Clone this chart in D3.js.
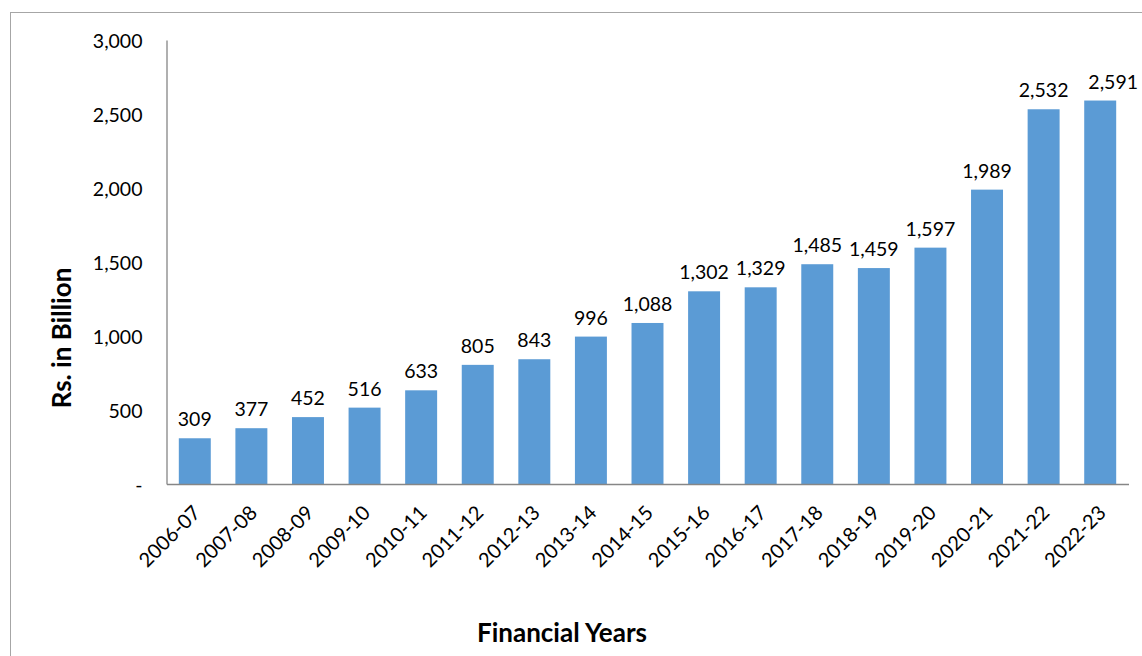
<!DOCTYPE html>
<html><head><meta charset="utf-8">
<script src="https://cdn.jsdelivr.net/npm/d3@7"></script>
<style>body{margin:0;background:#fff;} text{font-family:Lato, "Open Sans", sans-serif;}</style>
</head><body>
<svg id="c" width="1142" height="656"></svg>
<script>
const categories = ["2006-07","2007-08","2008-09","2009-10","2010-11","2011-12","2012-13","2013-14","2014-15","2015-16","2016-17","2017-18","2018-19","2019-20","2020-21","2021-22","2022-23"];
const values = [309,377,452,516,633,805,843,996,1088,1302,1329,1485,1459,1597,1989,2532,2591];
const yTicks = [0,500,1000,1500,2000,2500,3000];
const yTickLabels = ["-","500","1,000","1,500","2,000","2,500","3,000"];

const svg = d3.select("#c");
svg.append("rect").attr("x",10.5).attr("y",12.5).attr("width",1300).attr("height",800)
  .attr("fill","none").attr("stroke","#a6a6a6").attr("stroke-width",1);

const x = d3.scaleBand().domain(categories).range([166.5,1128.5]).paddingInner(0.435).paddingOuter(0.2175);
const y = d3.scaleLinear().domain([0,3000]).range([484,40]);

svg.selectAll("rect.bar").data(values).enter().append("rect").attr("class","bar")
  .attr("x",(d,i)=>x(categories[i])).attr("width",x.bandwidth())
  .attr("y",d=>y(d)).attr("height",d=>y(0)-y(d)).attr("fill","#5b9bd5");

const fmt = d3.format(",");
svg.selectAll("text.val").data(values).enter().append("text").attr("class","val")
  .attr("x",(d,i)=>x(categories[i])+x.bandwidth()/2).attr("y",d=>y(d)-12)
  .attr("dx",(d,i)=> i===values.length-1 ? 13 : 0)
  .attr("text-anchor","middle").attr("font-size",19.5).attr("fill","#000").text(d=>fmt(d));

// y axis
const ya = svg.append("g").attr("transform","translate(166.5,0)")
  .call(d3.axisLeft(y).tickValues(yTicks).tickSize(0).tickPadding(24).tickFormat((d,i)=>yTickLabels[i]));
ya.select(".domain").attr("stroke","#868686").attr("stroke-width",1.3);
ya.selectAll("text").attr("font-size",19.5).attr("fill","#000").attr("font-family","Lato").attr("dy","0.4em");

// x axis
const xa = svg.append("g").attr("transform","translate(0,484)")
  .call(d3.axisBottom(x).tickSize(0).tickSizeOuter(0));
xa.select(".domain").attr("stroke","#868686").attr("stroke-width",1.3);
xa.selectAll("text").attr("font-size",20).attr("fill","#000").attr("font-family","Lato")
  .attr("text-anchor","end").attr("dy",0).attr("y",0)
  .attr("transform","translate(7,30) rotate(-45)");

svg.append("text").attr("x",562).attr("y",642).attr("text-anchor","middle")
  .attr("font-size",26).attr("font-weight","bold").text("Financial Years");
svg.append("text").attr("transform","translate(71,338) rotate(-90)").attr("text-anchor","middle")
  .attr("font-size",26).attr("font-weight","bold").text("Rs. in Billion");
</script>
</body></html>
